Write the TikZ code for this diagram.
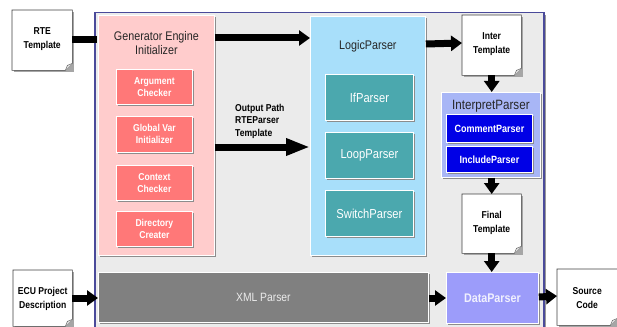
\documentclass[tikz,border=0pt]{standalone}
\usepackage{fontspec}
\setmainfont{Liberation Sans}[FakeStretch=0.86]
\usetikzlibrary{arrows.meta,calc,shadows}

\definecolor{panelgray}{HTML}{EBEBEB}
\definecolor{frameblue}{HTML}{4A4A9A}
\definecolor{genpink}{HTML}{FFCCCC}
\definecolor{genred}{HTML}{FF7878}
\definecolor{logicblue}{HTML}{A8DFFA}
\definecolor{logicteal}{HTML}{4BA8AE}
\definecolor{interpblue}{HTML}{A8B6F6}
\definecolor{deepblue}{HTML}{0000E6}
\definecolor{dataviolet}{HTML}{9C9CFA}
\definecolor{xmlgray}{HTML}{808080}

\tikzset{
  shade/.style={drop shadow={shadow xshift=2pt,shadow yshift=-2pt,fill=black!45,opacity=1}},
  panel/.style={anchor=north west,inner sep=0pt,draw=white,line width=0.8pt,shade},
  sub/.style={panel,text=white,align=center,font=\bfseries\fontsize{10}{12}\selectfont},
  title/.style={align=center,text=black!85,font=\fontsize{12.5}{14}\selectfont},
  sheet/.style={anchor=north west,inner sep=0pt},
  doctext/.style={inner sep=0pt,align=center,font=\bfseries\fontsize{10}{14}\selectfont},
  bigarrow/.style={line width=7pt,-{Triangle[length=11pt,width=15pt]}},
  longhead/.style={line width=7pt,-{Triangle[length=24pt,width=16pt]}}
}

% a sheet of paper with a folded lower right corner, drawn round a named node
\newcommand{\paper}[1]{%
  \fill[black!35] ([shift={(2pt,-2pt)}]#1.north west) -- ([shift={(2pt,-2pt)}]#1.north east)
      -- ([shift={(2pt,-2pt)}]#1.south east) -- ([shift={(2pt,-2pt)}]#1.south west) -- cycle;
  \draw[black!75,fill=white,line width=0.6pt] (#1.north west) -- (#1.north east)
      -- ([yshift=7pt]#1.south east) -- ([xshift=-7pt]#1.south east) -- (#1.south west) -- cycle;
  \draw[black!60,fill=black!12,line width=0.5pt] ([yshift=7pt]#1.south east)
      -- ([shift={(-5pt,5pt)}]#1.south east) -- ([xshift=-7pt]#1.south east);
}

\begin{document}
\begin{tikzpicture}[x=1pt,y=-1pt]
\useasboundingbox (0,0) rectangle (617,326);

% outer frame of the generator
\node[anchor=north west,inner sep=0pt,minimum width=449pt,minimum height=330pt,
      fill=panelgray,draw=frameblue,line width=1.5pt,
      drop shadow={shadow xshift=2pt,shadow yshift=-2pt,fill=black!40,opacity=1}] (frame) at (94,12) {};

% Generator Engine Initializer
\node[panel,fill=genpink,minimum width=116pt,minimum height=240pt] (gen) at (98,15) {};
\node[title] (gentitle) at ($(gen.north)+(0,28)$) {Generator Engine\\Initializer};
\node[sub,fill=genred,minimum width=76pt,minimum height=35pt] (arg) at (116,69) {Argument\\Checker};
\node[sub,fill=genred,minimum width=76pt,minimum height=36pt] (glob) at (116,116) {Global Var\\Initializer};
\node[sub,fill=genred,minimum width=76pt,minimum height=35pt] (ctx) at (116,165) {Context\\Checker};
\node[sub,fill=genred,minimum width=76pt,minimum height=35pt] (dir) at (116,211) {Directory\\Creater};

% LogicParser
\node[panel,fill=logicblue,minimum width=115pt,minimum height=239pt] (logic) at (310,16) {};
\node[title] (logictitle) at ($(logic.north)+(0,30)$) {LogicParser};
\node[sub,fill=logicteal,minimum width=88pt,minimum height=46pt,font=\fontsize{13}{15}\selectfont] (ifp) at (325,74) {IfParser};
\node[sub,fill=logicteal,minimum width=88pt,minimum height=46pt,font=\fontsize{13}{15}\selectfont] (loop) at (325,132) {LoopParser};
\node[sub,fill=logicteal,minimum width=88pt,minimum height=46pt,font=\fontsize{13}{15}\selectfont] (switch) at (325,190) {SwitchParser};

% InterpretParser
\node[panel,fill=interpblue,minimum width=99pt,minimum height=85pt] (interp) at (441,92) {};
\node[title,font=\fontsize{13.5}{15}\selectfont] (interptitle) at ($(interp.north)+(0,14)$) {InterpretParser};
\node[sub,fill=deepblue,minimum width=86pt,minimum height=28pt,font=\bfseries\fontsize{10.5}{12}\selectfont] (comment) at (446,114) {CommentParser};
\node[sub,fill=deepblue,minimum width=86pt,minimum height=26pt,font=\bfseries\fontsize{10.5}{12}\selectfont] (include) at (446,146) {IncludeParser};

% XML Parser and DataParser
\node[panel,fill=xmlgray,minimum width=330pt,minimum height=50pt,text=white!92!black,
      font=\fontsize{12}{14}\selectfont] (xml) at (98,272) {XML Parser};
\node[panel,fill=dataviolet,minimum width=92pt,minimum height=51pt,text=white!85!dataviolet,
      font=\bfseries\fontsize{12.5}{14}\selectfont] (data) at (446,272) {DataParser};

% documents: the sheet first, then its label
\node[sheet,minimum width=60pt,minimum height=60pt] (rte) at (12,10) {};
\node[sheet,minimum width=59pt,minimum height=60pt] (inter) at (462,15) {};
\node[sheet,minimum width=59pt,minimum height=59pt] (final) at (462,194) {};
\node[sheet,minimum width=59pt,minimum height=56pt] (ecu) at (13,270) {};
\node[sheet,minimum width=60pt,minimum height=56pt] (src) at (557,269) {};
\paper{rte}
\paper{inter}
\paper{final}
\paper{ecu}
\paper{src}
\node[doctext] (rtelabel) at ($(rte.center)+(0,-1)$) {RTE\\Template};
\node[doctext] (interlabel) at ($(inter.center)+(0,-1)$) {Inter\\Template};
\node[doctext] (finallabel) at ($(final.center)+(0,-1)$) {Final\\Template};
\node[doctext] (eculabel) at ($(ecu.north)+(0,29)$) {ECU Project\\Description};
\node[doctext] (srclabel) at ($(src.north)+(0,29)$) {Source\\Code};

% label of the lower arrow
\node[anchor=north west,inner sep=0pt,align=left,font=\bfseries\fontsize{10}{12.5}\selectfont]
  (outlabel) at (235,104) {Output Path\\RTEParser\\Template};

% flow arrows
\draw[line width=7pt] ($(rte.north east)+(0,30)$) -- ($(gen.north west)+(-1,25)$);
\draw[bigarrow] ($(gen.north east)+(0,23)$) -- ($(logic.north west)+(0,22)$);
\draw[longhead] ($(gen.north east)+(0,132)$) -- ($(logic.north west)+(0,131)$);
\draw[bigarrow] ($(logic.north east)+(0,28)$) -- ($(inter.north west)+(0,28)$);
\draw[bigarrow] (inter.south) -- (interp.north -| inter.south);
\draw[bigarrow] (interp.south -| final.north) -- (final.north);
\draw[bigarrow] (final.south) -- (data.north -| final.south);
\draw[bigarrow] ($(ecu.north east)+(0,28)$) -- ($(xml.north west)+(0,26)$);
\draw[bigarrow] ($(xml.north east)+(0,26)$) -- ($(data.north west)+(0,26)$);
\draw[bigarrow] ($(data.north east)+(0,25)$) -- ($(src.north west)+(0,27)$);
\end{tikzpicture}
\end{document}
